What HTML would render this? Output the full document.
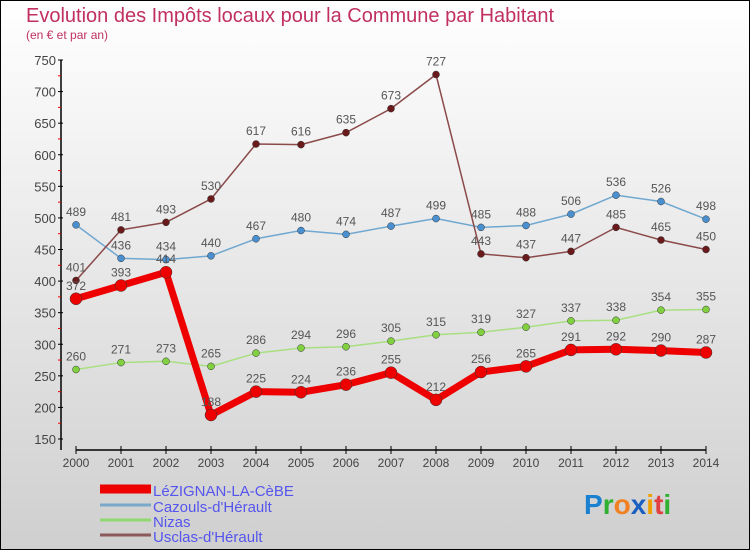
<!DOCTYPE html>
<html><head><meta charset="utf-8"><style>
body{margin:0;width:750px;height:550px;overflow:hidden}
#c{position:absolute;left:0;top:0;width:748px;height:548px;border:1px solid #000;background:linear-gradient(#ffffff,#cfcfcf)}
svg{position:absolute;left:0;top:0}
text{font-family:"Liberation Sans",sans-serif}
</style></head><body>
<div id="c"></div>
<svg id="s" width="750" height="550">
<text x="26" y="22" font-size="20" fill="#c03060">Evolution des Impôts locaux pour la Commune par Habitant</text>
<text x="26" y="39" font-size="12" fill="#c03060">(en € et par an)</text>
</svg>
<script>
const years=[2000,2001,2002,2003,2004,2005,2006,2007,2008,2009,2010,2011,2012,2013,2014];
const yTicks=[150,200,250,300,350,400,450,500,550,600,650,700,750];
const lezignan=[372,393,414,188,225,224,236,255,212,256,265,291,292,290,287];
const cazouls=[489,436,434,440,467,480,474,487,499,485,488,506,536,526,498];
const nizas=[260,271,273,265,286,294,296,305,315,319,327,337,338,354,355];
const usclas=[401,481,493,530,617,616,635,673,727,443,437,447,485,465,450];
const names=["LéZIGNAN-LA-CèBE","Cazouls-d'Hérault","Nizas","Usclas-d'Hérault"];
const s=document.getElementById('s');const NS='http://www.w3.org/2000/svg';
function X(i){return 76+i*45;}
function Y(v){return 60+(750-v)*(379/600);}
function el(t,a,p){const e=document.createElementNS(NS,t);for(const k in a)e.setAttribute(k,a[k]);(p||s).appendChild(e);return e;}
// axes
let a=el('line',{x1:61,y1:60,x2:61,y2:450,stroke:'#000','stroke-width':1.5});


a=el('line',{x1:76,y1:450,x2:706,y2:450,stroke:'#000','stroke-width':1.5});


yTicks.forEach(v=>{el('line',{x1:58,y1:Y(v),x2:63,y2:Y(v),stroke:'#000'});
 if(v<750)el('line',{x1:58,y1:Y(v+25),x2:61,y2:Y(v+25),stroke:'#e00'});
 const t=el('text',{x:56,y:Y(v)+5,'font-size':13,fill:'#444','text-anchor':'end'});t.textContent=v;
 
 });
years.forEach((yr,i)=>{el('line',{x1:X(i),y1:446,x2:X(i),y2:454,stroke:'#000'});
 const t=el('text',{x:X(i),y:467,'font-size':12,fill:'#444','text-anchor':'middle'});t.textContent=yr;
 
 });
function series(d,col,dot,w,r,nm){
 const g=el('g',{});
 
 
 el('polyline',{points:d.map((v,i)=>X(i)+','+Y(v)).join(' '),fill:'none',stroke:col,'stroke-width':w,'stroke-linejoin':'round'},g);
 d.forEach((v,i)=>{const c=el('circle',{cx:X(i),cy:Y(v),r:r,fill:dot,stroke:'#333','stroke-width':0.5},g);
  
  
  const t=el('text',{x:X(i),y:Y(v)-9,'font-size':12,fill:'#555','text-anchor':'middle'},g);t.textContent=v;
  
  });
}
series(nizas,'#a8e080','#80d040',1.5,3.5,'series-nizas');
series(cazouls,'#70a8d0','#4a90d0',1.5,3.5,'series-cazouls');
series(usclas,'#8b4a4a','#6a1a1a',1.5,3.5,'series-usclas');
series(lezignan,'#ee0000','#ee0000',7,6,'series-lezignan');
const lc=['#ee0000','#7aa8c8','#90d870','#8b5a5a'],lw=[9,3,3,3],ly=[494,510,525,540];
names.forEach((n,i)=>{el('line',{x1:100,y1:ly[i]-5,x2:151,y2:ly[i]-5,stroke:lc[i],'stroke-width':lw[i]});
 const t=el('text',{x:153,y:ly[i]+2,'font-size':15,fill:'#5555ee'});t.textContent=n;
 
 });
const logo=el('text',{x:584,y:514,'font-size':28,'font-weight':'bold'});


[['P','#1a80d0'],['r','#30b030'],['o','#f08020'],['x','#1a60c0'],['i','#f0a000'],['t','#e04040'],['i','#30b030']].forEach(p=>{const ts=el('tspan',{fill:p[1]},logo);ts.textContent=p[0];});
</script>
</body></html>
